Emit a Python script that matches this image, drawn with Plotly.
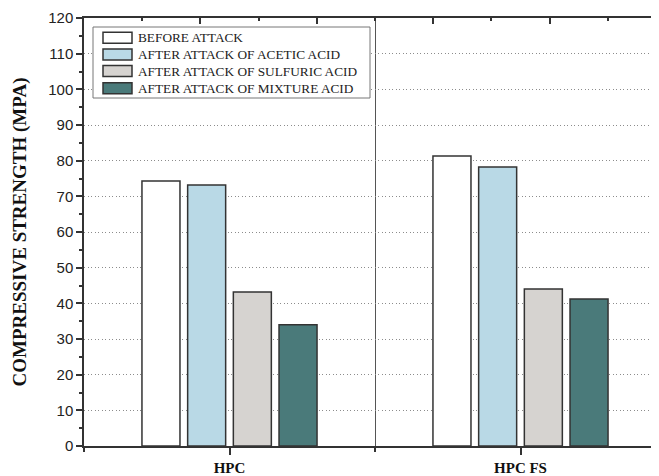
import plotly.graph_objects as go

categories = ["HPC", "HPC FS"]
series_names = [
    "BEFORE ATTACK",
    "AFTER ATTACK OF ACETIC ACID",
    "AFTER ATTACK OF SULFURIC ACID",
    "AFTER ATTACK OF MIXTURE ACID",
]
before_attack = [74.3, 81.3]
acetic_acid = [73.2, 78.2]
sulfuric_acid = [43.2, 44.0]
mixture_acid = [34.0, 41.2]
series_values = [before_attack, acetic_acid, sulfuric_acid, mixture_acid]
colors = ["#ffffff", "#b9d9e6", "#d6d3d0", "#4a7a7a"]
y_ticks = list(range(0, 121, 10))

# page body has an 8px default margin; lay out in page pixels minus that offset
OFF = 8
W, H = 659 - OFF, 476 - OFF
ML, MR, MT, MB = 84 - OFF, 0, 18 - OFF, 30
PW, PH = W - ML - MR, H - MT - MB
x_pos = list(range(len(categories)))
x_range = [-0.5, -0.5 + PW / 291.0]

fig = go.Figure()
for name, vals, col in zip(series_names, series_values, colors):
    fig.add_trace(go.Bar(
        x=x_pos, y=vals, name=name,
        marker=dict(color=col, line=dict(color="#333333", width=1.5)),
        showlegend=False,
    ))

# invisible trace so the top axis is drawn
fig.add_trace(go.Scatter(x=[x_range[0]], y=[0], xaxis="x2", mode="markers",
                         marker=dict(opacity=0), showlegend=False, hoverinfo="skip"))

axis_col = "#333333"
fig.update_layout(
    width=W, height=H,
    margin=dict(l=ML, r=MR, t=MT, b=MB),
    paper_bgcolor="white", plot_bgcolor="white",
    barmode="group", bargap=0.372, bargroupgap=0.168,
    showlegend=False,
    xaxis=dict(
        range=x_range, tickmode="array", tickvals=x_pos,
        ticktext=["<b>%s</b>" % c for c in categories],
        ticks="outside", ticklen=7, tickwidth=1.5, tickcolor=axis_col,
        showline=True, linecolor=axis_col, linewidth=1.5,
        showgrid=False, zeroline=False, automargin=False,
        tickfont=dict(family="Liberation Serif", size=15, color="#111111"),
        minor=dict(tickmode="array", tickvals=[-0.5, 0.5, 1.5], ticks="outside",
                   ticklen=4, tickwidth=1.5, tickcolor=axis_col,
                   showgrid=True, gridcolor="#555555", gridwidth=1),
    ),
    xaxis2=dict(
        overlaying="x", side="top", anchor="y", range=x_range,
        tickmode="array", tickvals=[-0.1, 0.3, 0.7, 1.1, 1.5],
        ticks="inside", ticklen=6, tickwidth=1.5, tickcolor=axis_col,
        showticklabels=False, showline=True, linecolor=axis_col, linewidth=1.5,
        showgrid=False, zeroline=False,
        minor=dict(tickmode="array", tickvals=[-0.3, 0.1, 0.5, 0.9, 1.3],
                   ticks="inside", ticklen=3, tickwidth=1.5, tickcolor=axis_col),
    ),
    yaxis=dict(
        range=[0, 120], tickmode="array", tickvals=y_ticks,
        ticks="outside", ticklen=6, tickwidth=1.5, tickcolor=axis_col,
        showline=True, linecolor=axis_col, linewidth=1.5,
        showgrid=True, gridcolor="#8c8c8c", gridwidth=1, griddash="1px,2.5px",
        zeroline=False, automargin=False,
        tickfont=dict(family="Liberation Sans", size=15, color="#222222"),
        title=dict(text="<b>COMPRESSIVE STRENGTH (MPA)</b>", standoff=17,
                   font=dict(family="Liberation Serif", size=19, color="#111111")),
        minor=dict(dtick=5, ticks="outside", ticklen=3, tickwidth=1.5,
                   tickcolor=axis_col, showgrid=False),
    ),
)


def px_x(px):
    return (px - OFF - ML) / PW


def px_y(py):
    return (H - MB - (py - OFF)) / PH


# custom legend (wide swatches as in reference)
fig.add_shape(type="rect", xref="paper", yref="paper",
              x0=px_x(93), x1=px_x(370), y0=px_y(98), y1=px_y(27),
              line=dict(color="#777777", width=1), fillcolor="white", layer="above")
row_y = [37.7, 54.4, 71.1, 88.3]
for name, col, ry in zip(series_names, colors, row_y):
    fig.add_shape(type="rect", xref="paper", yref="paper",
                  x0=px_x(103), x1=px_x(132), y0=px_y(ry + 5.5), y1=px_y(ry - 5.5),
                  line=dict(color="#333333", width=1.5), fillcolor=col, layer="above")
    fig.add_annotation(xref="paper", yref="paper", x=px_x(136), y=px_y(ry),
                       text=name, showarrow=False, xanchor="left", yanchor="middle",
                       font=dict(family="Liberation Serif", size=13.3, color="#222222"))

fig.write_html("out.html")
